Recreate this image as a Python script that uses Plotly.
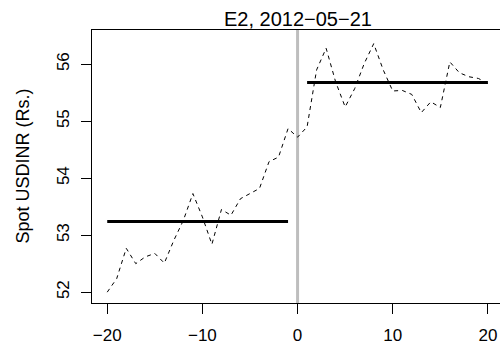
import plotly.graph_objects as go

days = list(range(-20, 21))
spot = [52.00, 52.24, 52.77, 52.50, 52.62, 52.68, 52.51, 52.91, 53.26, 53.73,
        53.32, 52.84, 53.45, 53.35, 53.64, 53.73, 53.82, 54.29, 54.37, 54.87,
        54.72,
        54.90, 55.90, 56.28, 55.69, 55.25, 55.57, 56.01, 56.36, 55.90, 55.53,
        55.54, 55.47, 55.15, 55.34, 55.24, 56.04, 55.85, 55.78, 55.75, 55.66]
pre_days = [-20, -1]
pre_mean = 53.24
post_days = [1, 20]
post_mean = 55.68
event_day = 0
title_text = "E2, 2012\u221205\u221221"
ylabel = "Spot USDINR (Rs.)"
xticks = [-20, -10, 0, 10, 20]
xticklabels = ["\u221220", "\u221210", "0", "10", "20"]
yticks = [52, 53, 54, 55, 56]

FONT = "Liberation Sans, Arial, sans-serif"

fig = go.Figure()
fig.add_trace(go.Scatter(x=[event_day, event_day], y=[51.81, 56.6], mode="lines",
                         line=dict(color="#BEBEBE", width=3), showlegend=False))
fig.add_trace(go.Scatter(x=days, y=spot, mode="lines",
                         line=dict(color="black", width=1, dash="4px,4px"), showlegend=False))
fig.add_trace(go.Scatter(x=pre_days, y=[pre_mean, pre_mean], mode="lines",
                         line=dict(color="black", width=3), showlegend=False))
fig.add_trace(go.Scatter(x=post_days, y=[post_mean, post_mean], mode="lines",
                         line=dict(color="black", width=3), showlegend=False))

fig.update_layout(
    template="none",
    width=500, height=345,
    margin=dict(l=92, r=0, t=30, b=42, autoexpand=False),
    paper_bgcolor="white", plot_bgcolor="white",
    font=dict(family=FONT, size=17, color="black"),
    xaxis=dict(range=[-21.6, 21.27], showgrid=False, zeroline=False, automargin=False,
               showline=True, linecolor="black", linewidth=1, mirror=True,
               ticks="outside", ticklen=10, tickcolor="black",
               tickvals=xticks, ticktext=xticklabels, tickfont=dict(size=17),
               ticklabelstandoff=7),
    yaxis=dict(range=[51.81, 56.6], showgrid=False, zeroline=False, automargin=False,
               showline=True, linecolor="black", linewidth=1,
               ticks="outside", ticklen=10, tickcolor="black",
               tickvals=yticks, tickangle=-90, tickfont=dict(size=17),
               ticklabelstandoff=5),
    annotations=[
        dict(text=title_text, x=(297.5 - 92) / 408, xref="paper", xanchor="center",
             y=1 + 11 / 273, yref="paper", yanchor="middle", showarrow=False,
             font=dict(size=20)),
        dict(text=ylabel, x=-(92 - 22) / 408, xref="paper", xanchor="center",
             y=0.5, yref="paper", yanchor="middle",
             textangle=-90, showarrow=False, font=dict(size=18)),
    ],
)

fig.write_html("out.html", config={"displayModeBar": False},
               post_script="document.body.style.margin='0px';")
